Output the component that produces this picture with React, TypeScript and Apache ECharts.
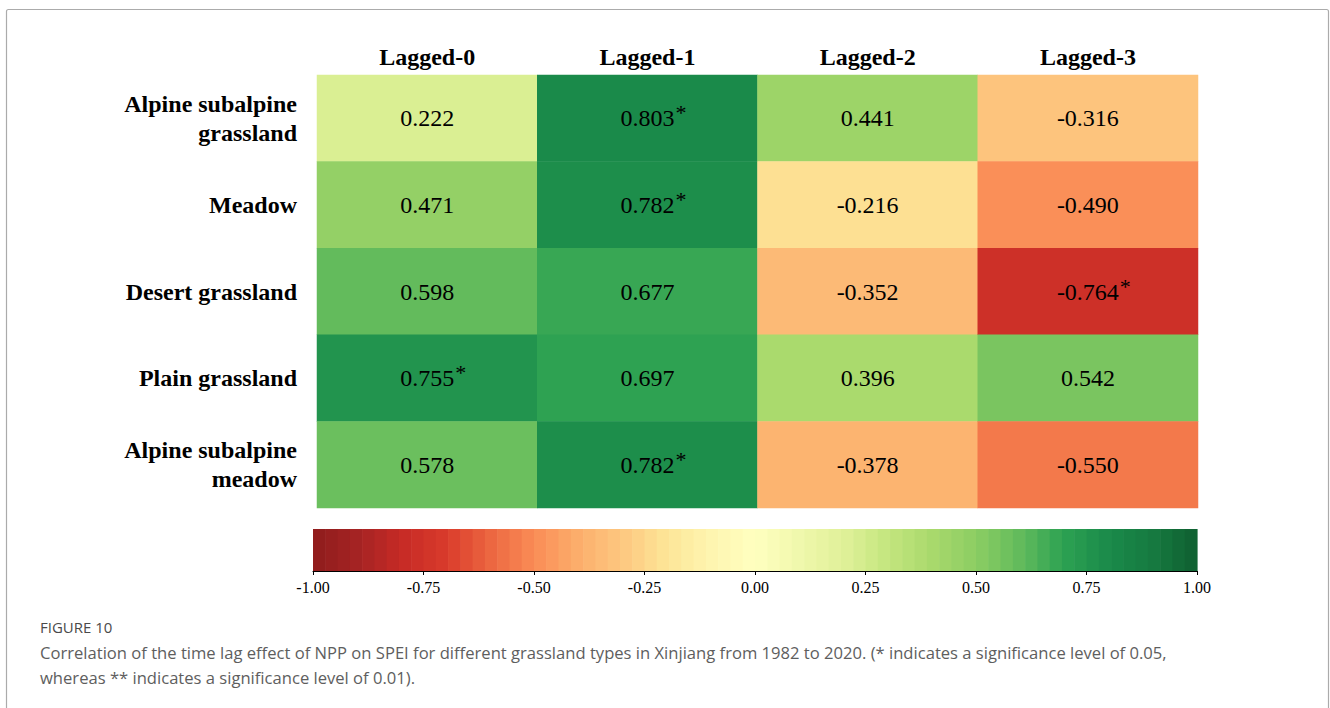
import React, { useEffect, useRef } from "react";
import * as echarts from "echarts";

const columns = ["Lagged-0", "Lagged-1", "Lagged-2", "Lagged-3"];
const rows = [
  "Alpine subalpine\ngrassland",
  "Meadow",
  "Desert grassland",
  "Plain grassland",
  "Alpine subalpine\nmeadow",
];
const lag0 = [0.222, 0.471, 0.598, 0.755, 0.578];
const lag1 = [0.803, 0.782, 0.677, 0.697, 0.782];
const lag2 = [0.441, -0.216, -0.352, 0.396, -0.378];
const lag3 = [-0.316, -0.49, -0.764, 0.542, -0.55];
const sig0 = [false, false, false, true, false];
const sig1 = [true, true, false, false, true];
const sig2 = [false, false, false, false, false];
const sig3 = [false, false, true, false, false];

const colorbarTicks = { min: -1, max: 1, interval: 0.25 };
const colorbarSteps = 72;

// colours at -1.0, -0.9, ..., 0.9, 1.0
const palette = [
  "#8f1c1c", "#a52323", "#c62b26", "#d93a2b", "#ec6640",
  "#fa8c56", "#fcae6c", "#fdc880", "#fde597", "#fef5b0",
  "#ffffc0",
  "#f0f8ac", "#e0f199", "#c4e67f", "#a9d96c", "#8ccd63",
  "#62bb5c", "#2ca152", "#1a8a4a", "#167a40", "#0f5f31",
];

const SERIF = "'Liberation Serif', 'Times New Roman', serif";
const SANS = "'Open Sans', Lato, sans-serif";

export default function App() {
  const ref = useRef<HTMLDivElement>(null);
  useEffect(() => {
    if (!ref.current) return;
    const chart = echarts.init(ref.current, null, { renderer: "svg" });
    const cols = [lag0, lag1, lag2, lag3];
    const sigs = [sig0, sig1, sig2, sig3];
    const data: any[] = [];
    cols.forEach((col, ci) =>
      col.forEach((v, ri) => data.push({ value: [ci, ri, v], sig: sigs[ci][ri] }))
    );
    const span = colorbarTicks.max - colorbarTicks.min;
    const stripes: number[][] = [];
    for (let i = 0; i < colorbarSteps; i++) {
      const a = colorbarTicks.min + (span * i) / colorbarSteps;
      const b = colorbarTicks.min + (span * (i + 1)) / colorbarSteps;
      stripes.push([a, b, (a + b) / 2]);
    }
    chart.setOption({
      animation: false,
      backgroundColor: "#ffffff",
      grid: [
        { left: 317, top: 75, width: 881, height: 433 },
        { left: 313, top: 529, width: 884, height: 42 },
      ],
      xAxis: [
        {
          type: "category",
          data: columns,
          position: "top",
          gridIndex: 0,
          axisLine: { show: false },
          axisTick: { show: false },
          axisLabel: {
            margin: 6,
            fontFamily: SERIF,
            fontWeight: "bold",
            fontSize: 24,
            color: "#000",
          },
        },
        {
          type: "value",
          gridIndex: 1,
          min: colorbarTicks.min,
          max: colorbarTicks.max,
          interval: colorbarTicks.interval,
          position: "bottom",
          splitLine: { show: false },
          axisLine: { show: true, lineStyle: { color: "#000", width: 1 } },
          axisTick: { show: true, length: 4, lineStyle: { color: "#000" } },
          axisLabel: {
            margin: 8,
            fontFamily: SERIF,
            fontSize: 16,
            color: "#000",
            formatter: (v: number) => v.toFixed(2),
          },
        },
      ],
      yAxis: [
        {
          type: "category",
          data: rows,
          inverse: true,
          gridIndex: 0,
          axisLine: { show: false },
          axisTick: { show: false },
          axisLabel: {
            margin: 20,
            fontFamily: SERIF,
            fontWeight: "bold",
            fontSize: 24,
            lineHeight: 29,
            color: "#000",
            align: "right",
          },
        },
        { type: "value", gridIndex: 1, min: 0, max: 1, show: false },
      ],
      visualMap: {
        type: "continuous",
        show: false,
        min: -1,
        max: 1,
        dimension: 2,
        seriesIndex: [0, 1],
        inRange: { color: palette },
      },
      series: [
        {
          type: "heatmap",
          xAxisIndex: 0,
          yAxisIndex: 0,
          data,
          label: {
            show: true,
            formatter: (p: any) => {
              const v = p.value[2].toFixed(3);
              return p.data.sig ? `{w|${v}}{s|*}` : `{v|${v}}`;
            },
            rich: {
              v: { fontFamily: SERIF, fontSize: 24, color: "#000" },
              w: {
                fontFamily: SERIF,
                fontSize: 24,
                color: "#000",
                padding: [0, 0, 0, 12],
              },
              s: {
                fontFamily: SERIF,
                fontSize: 22,
                color: "#000",
                padding: [0, 0, 11, 1],
              },
            },
          },
          itemStyle: { borderWidth: 0 },
          emphasis: { disabled: true },
        },
        {
          type: "custom",
          xAxisIndex: 1,
          yAxisIndex: 1,
          data: stripes,
          encode: { x: [0, 1] },
          renderItem: (params: any, api: any) => {
            const p0 = api.coord([api.value(0), 1]);
            const p1 = api.coord([api.value(1), 0]);
            return {
              type: "rect",
              shape: {
                x: p0[0],
                y: p0[1],
                width: p1[0] - p0[0] + 0.6,
                height: p1[1] - p0[1],
              },
              style: { fill: api.visual("color") },
            };
          },
        },
      ],
      graphic: [
        {
          type: "rect",
          shape: { x: 6.5, y: 9.5, width: 1322, height: 720, r: 2 },
          style: { fill: "none", stroke: "#ababab", lineWidth: 1.2 },
          silent: true,
        },
        {
          type: "text",
          x: 40,
          y: 619,
          style: {
            text: "FIGURE 10",
            fontFamily: SANS,
            fontSize: 15,
            fill: "#4a4a4a",
          },
        },
        {
          type: "text",
          x: 40,
          y: 640,
          style: {
            text:
              "Correlation of the time lag effect of NPP on SPEI for different grassland types in Xinjiang from 1982 to 2020. (* indicates a significance level of 0.05,\nwhereas ** indicates a significance level of 0.01).",
            fontFamily: SANS,
            fontSize: 16.6,
            lineHeight: 25,
            fill: "#5e5e5e",
          },
        },
      ],
    });
    return () => chart.dispose();
  }, []);
  return (
    <div
      ref={ref}
      style={{ position: "absolute", left: 0, top: 0, width: 1330, height: 708 }}
    />
  );
}
